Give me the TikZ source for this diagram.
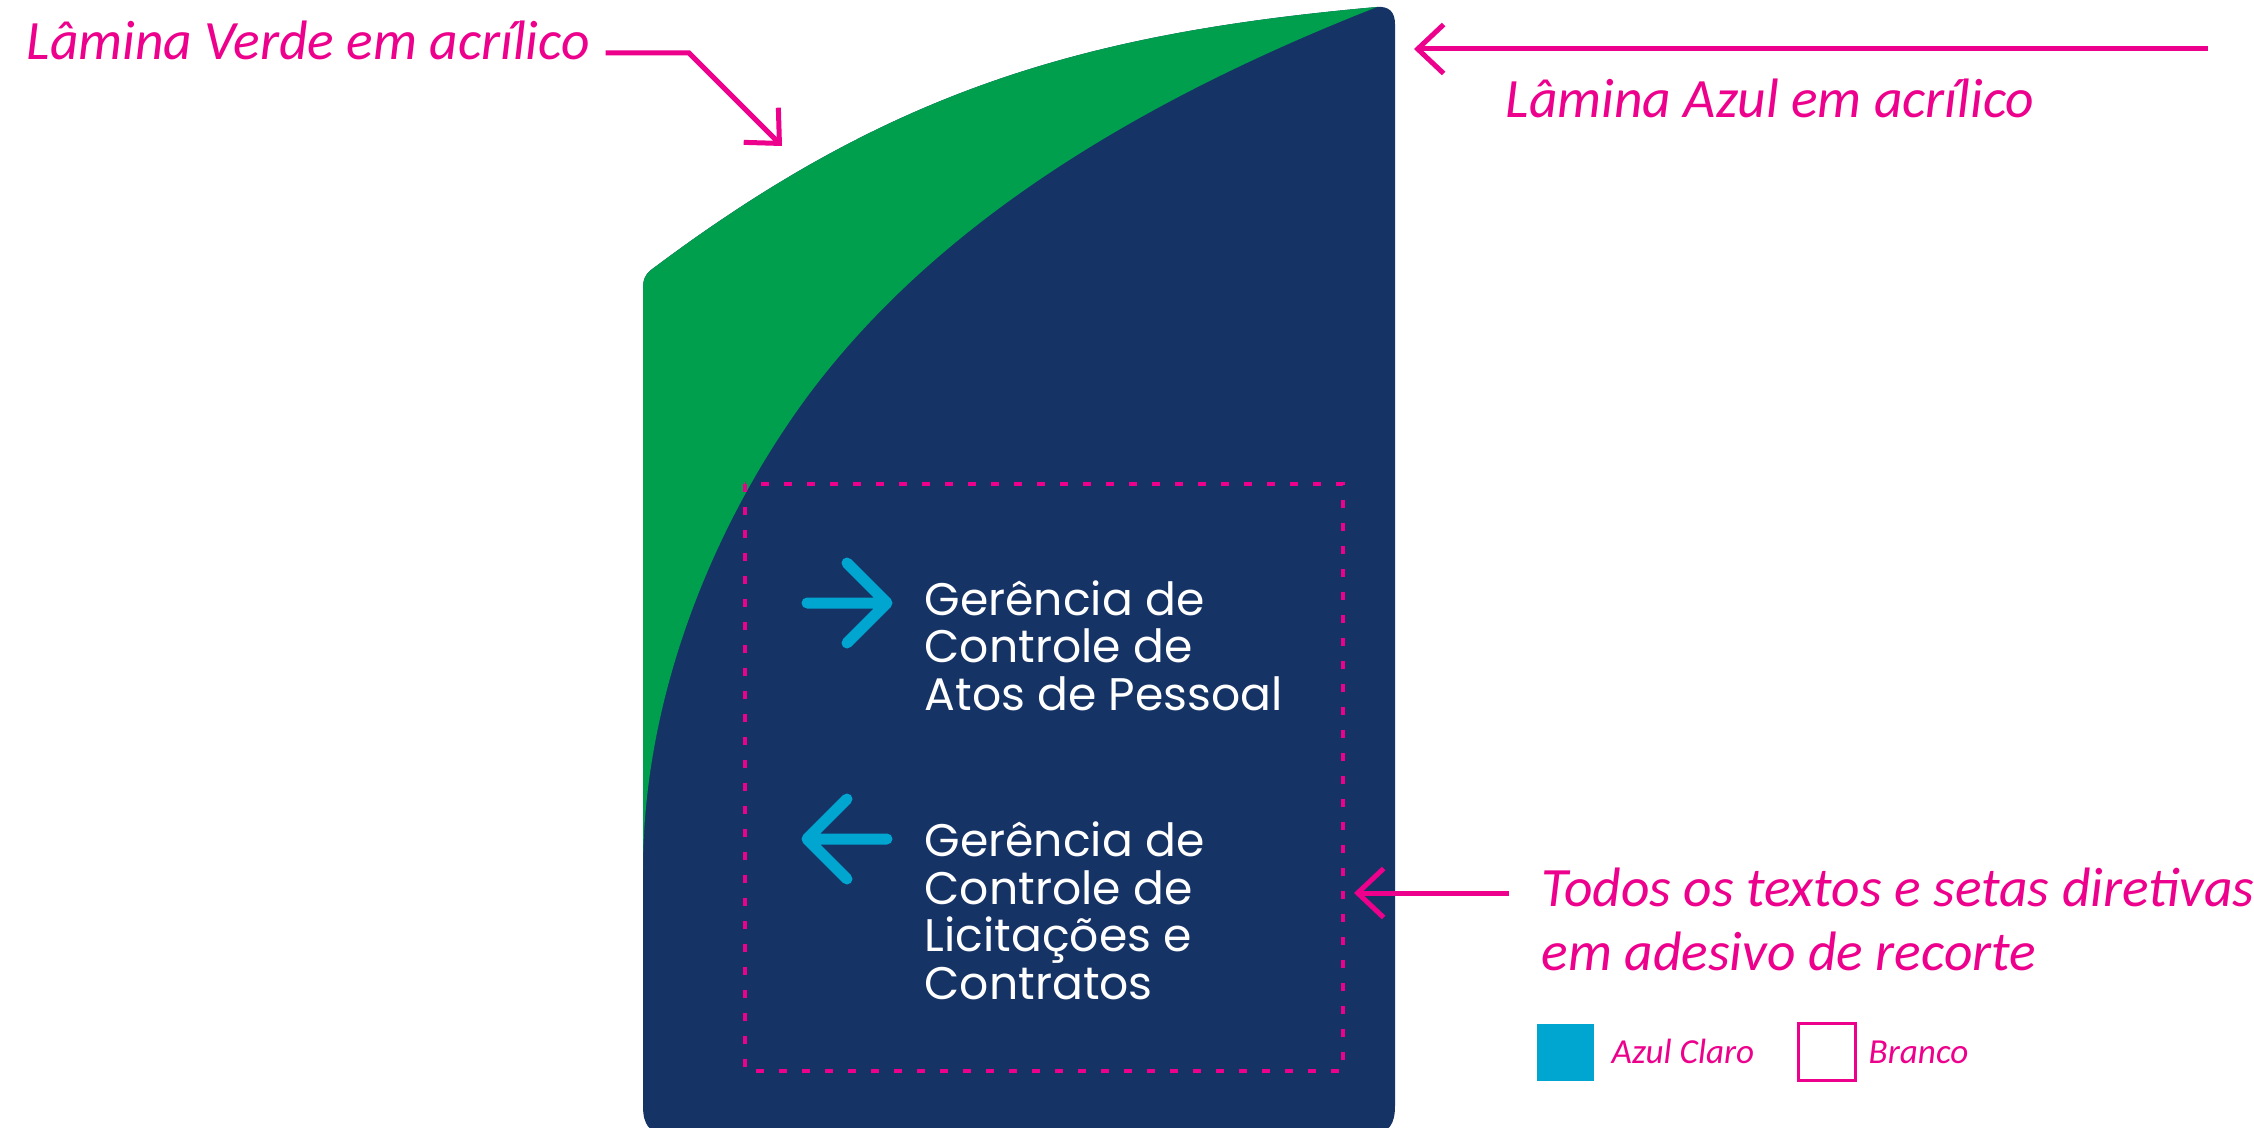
\documentclass[tikz,border=0pt]{standalone}
\usepackage{fontspec}
\usepackage{tikz}
\usetikzlibrary{arrows.meta}

\newfontfamily\placafont{Poppins}
\newfontfamily\notafont{Carlito}

\definecolor{azulescuro}{RGB}{22,51,102}
\definecolor{verdeplaca}{RGB}{0,159,77}
\definecolor{rosanota}{RGB}{236,0,140}
\definecolor{azulclaro}{RGB}{0,165,208}

\begin{document}
\begin{tikzpicture}[x=0.1mm, y=-0.1mm,
    nota/.style={text=rosanota, inner sep=0pt, anchor=base west, align=left,
        font=\notafont\itshape\fontsize{15.8}{18.2}\selectfont},
    notapeq/.style={text=rosanota, inner sep=0pt, anchor=base west,
        font=\notafont\itshape\fontsize{10}{12}\selectfont},
    seta/.style={draw=rosanota, line width=0.5mm, -{Straight Barb[length=2.6mm, width=4.9mm]}},
    placa/.style={text=white, inner sep=0pt, anchor=base west, align=left,
        font=\placafont\fontsize{13}{13.5}\selectfont},
    direcao/.style={draw=azulclaro, line width=1.1mm, line cap=round, line join=round},
    recorte/.style={draw=rosanota, line width=0.4mm, dash pattern=on 0.8mm off 1.5mm},
    amostra/.style={minimum size=5.7mm, inner sep=0pt}]
    \useasboundingbox (0,0) rectangle (2254,1128);

    % Placa
    \fill[azulescuro] (643,1106) -- (643,290) .. controls (643,279) and (645,275) .. (651,270)
        .. controls (890,90) and (1085,33) .. (1377,7)
        .. controls (1389,6) and (1395,12) .. (1395,24) -- (1395,1106)
        .. controls (1395,1124) and (1389,1134) .. (1371,1134) -- (667,1134)
        .. controls (649,1134) and (643,1124) .. (643,1106) -- cycle;
    \fill[verdeplaca] (643,870) -- (643,290) .. controls (643,279) and (645,275) .. (651,270)
        .. controls (890,90) and (1085,33) .. (1377,7)
        .. controls (1161,92) and (944,212) .. (807,397)
        .. controls (718,518) and (643,690) .. (643,870) -- cycle;
    \draw[recorte] (745,484) rectangle (1343,1071);

    % Setas e textos
    \foreach \y/\a/\b in {603/807/887, 839/887/807} {
        \draw[direcao] (\a,\y) -- (\b,\y) (847,\y-40) -- (\b,\y) -- (847,\y+40);
    }
    \node[placa] (gerpessoal) at (924,710) {Gerência de\\Controle de\\Atos de Pessoal};
    \node[placa] (gerlicitacoes) at (924,999) {Gerência de\\Controle de\\Licitações e\\Contratos};

    % Notas
    \node[nota] (txtverde) at (26,60) {Lâmina Verde em acrílico};
    \coordinate (verdecanto) at (689,53);
    \coordinate (verdeponta) at (782,146);
    \draw[seta] ([shift={(15,-7)}]txtverde.base east) -- (verdecanto) -- (verdeponta);

    \node[nota] (txtazul) at (1505,118) {Lâmina Azul em acrílico};
    \coordinate (azulinicio) at (2208,49);
    \coordinate (azulponta) at (1414,49);
    \draw[seta] (azulinicio) -- (azulponta);

    \node[nota] (txttodos) at (1541,970) {Todos os textos e setas diretivas\\em adesivo de recorte};
    \coordinate (todosinicio) at (1509,893);
    \coordinate (todosponta) at (1354,893);
    \draw[seta] (todosinicio) -- (todosponta);

    % Legenda
    \node[amostra, fill=azulclaro] (legazul) at (1565,1052) {};
    \node[amostra, draw=rosanota, line width=0.25mm] (legbranco) at (1827,1052) {};
    \node[notapeq] (txtazulclaro) at (1611,1063) {Azul Claro};
    \node[notapeq] (txtbranco) at (1868,1063) {Branco};
\end{tikzpicture}
\end{document}
